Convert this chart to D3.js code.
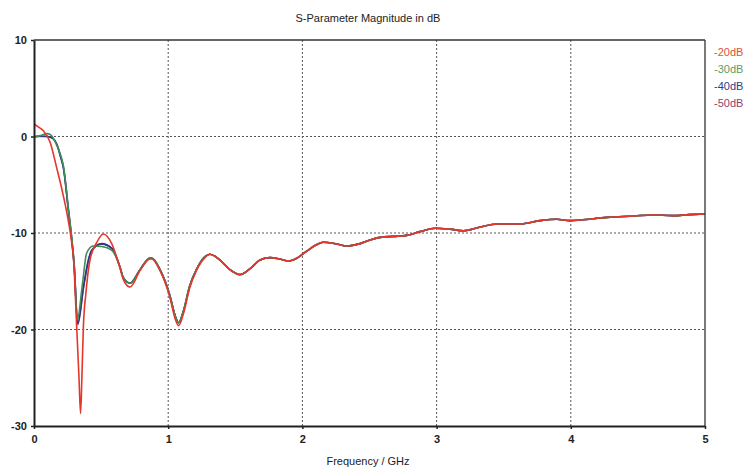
<!DOCTYPE html>
<html>
<head>
<meta charset="utf-8">
<script src="https://cdn.jsdelivr.net/npm/d3@7"></script>
<style>
  html, body { margin: 0; padding: 0; background: #fff; }
  svg { display: block; }
  text { font-family: "Liberation Sans", Arial, sans-serif; fill: #222; }
</style>
</head>
<body>
<svg id="chart" width="746" height="469"></svg>
<script>
// Axis ticks
const xTicks = [0, 1, 2, 3, 4, 5];
const yTicks = [10, 0, -10, -20, -30];

// Series names and colours (legend order)
const seriesNames = ["-20dB", "-30dB", "-40dB", "-50dB"];
const lineColors = ["#e5362b", "#3f8d57", "#26398b", "#8c3c78"];
const labelColors = ["#e0503c", "#5c9b6a", "#2c3c8c", "#8c4270"];

// Low-frequency portion, per series (GHz / dB)
const headFreq20 = [0, 0.032, 0.07, 0.12, 0.17, 0.21, 0.25, 0.275, 0.295, 0.318, 0.335, 0.347, 0.357, 0.368, 0.387, 0.417, 0.467, 0.516, 0.579];
const headDb20   = [1.3, 1.0, 0.6, -0.6, -3.3, -5.6, -8.3, -10.4, -12.8, -19.7, -24.9, -28.7, -24.9, -19.7, -16.2, -12.8, -11.0, -10.1, -11.1];

const headFreq30 = [0, 0.05, 0.1, 0.13, 0.16, 0.2, 0.22, 0.256, 0.28, 0.3, 0.323, 0.36, 0.392, 0.44, 0.504, 0.58];
const headDb30   = [-0.1, 0.1, 0.3, 0.1, -0.6, -2.0, -3.1, -7.4, -10.3, -13.3, -19.0, -15.4, -12.1, -11.35, -11.4, -11.8];

const headFreq40 = [0, 0.05, 0.1, 0.14, 0.17, 0.2, 0.22, 0.256, 0.28, 0.3, 0.325, 0.368, 0.405, 0.43, 0.504, 0.58];
const headDb40   = [0, 0.05, 0.0, -0.2, -0.8, -2.2, -3.3, -7.6, -10.5, -13.5, -19.4, -15.6, -12.8, -11.8, -11.1, -11.6];

const headFreq50 = [0, 0.05, 0.1, 0.14, 0.17, 0.2, 0.22, 0.256, 0.28, 0.3, 0.326, 0.37, 0.407, 0.43, 0.504, 0.58];
const headDb50   = [0, 0.0, 0.0, -0.2, -0.8, -2.2, -3.3, -7.6, -10.5, -13.5, -19.5, -15.6, -12.8, -11.8, -11.15, -11.6];

// Higher-frequency portion, common frequency grid
const tailFreq = [0.64, 0.665, 0.716, 0.79, 0.864, 0.877, 0.939, 1.013, 1.05, 1.078, 1.113, 1.16, 1.21, 1.27, 1.31, 1.386, 1.46, 1.535, 1.61, 1.684, 1.76, 1.83, 1.9, 1.96, 2.03, 2.1, 2.155, 2.255, 2.33, 2.43, 2.5, 2.58, 2.68, 2.777, 2.876, 2.99, 3.1, 3.2, 3.32, 3.45, 3.62, 3.77, 3.895, 3.994, 4.07, 4.27, 4.47, 4.61, 4.76, 4.88, 5.0];
const tailDb20 = [-13.6, -14.8, -15.6, -13.9, -12.7, -12.7, -13.9, -16.7, -18.8, -19.6, -18.4, -15.7, -13.9, -12.6, -12.2, -12.8, -13.8, -14.35, -13.7, -12.8, -12.55, -12.7, -12.9, -12.6, -11.9, -11.25, -10.96, -11.14, -11.35, -11.1, -10.75, -10.45, -10.35, -10.25, -9.86, -9.5, -9.6, -9.76, -9.4, -9.07, -9.07, -8.72, -8.58, -8.72, -8.65, -8.38, -8.24, -8.13, -8.2, -8.1, -8.03];
const tailDbLow = [-13.5, -14.6, -15.2, -13.8, -12.6, -12.6, -13.8, -16.5, -18.5, -19.3, -18.1, -15.5, -13.8, -12.5, -12.2, -12.8, -13.8, -14.3, -13.7, -12.8, -12.55, -12.7, -12.9, -12.6, -11.9, -11.25, -10.96, -11.14, -11.35, -11.1, -10.75, -10.45, -10.35, -10.25, -9.86, -9.5, -9.6, -9.76, -9.4, -9.07, -9.07, -8.72, -8.58, -8.72, -8.65, -8.38, -8.24, -8.13, -8.2, -8.1, -8.03];

const plot = { left: 34, right: 705, top: 40, bottom: 426 };

const x = d3.scaleLinear().domain([0, 5]).range([plot.left, plot.right]);
const y = d3.scaleLinear().domain([-30, 10]).range([plot.bottom, plot.top]);

const svg = d3.select("#chart");

function zipSeries(hf, hd, tf, td) {
  const pts = hf.map((f, i) => ({ f, db: hd[i] }));
  return pts.concat(tf.map((f, i) => ({ f, db: td[i] })));
}

const series = [
  zipSeries(headFreq20, headDb20, tailFreq, tailDb20),
  zipSeries(headFreq30, headDb30, tailFreq, tailDbLow),
  zipSeries(headFreq40, headDb40, tailFreq, tailDbLow),
  zipSeries(headFreq50, headDb50, tailFreq, tailDbLow)
];

// Dotted grid
const grid = svg.append("g").attr("stroke", "#555").attr("stroke-width", 1)
  .attr("stroke-dasharray", "2,2");
xTicks.filter(t => t > 0 && t < 5).forEach(t => {
  grid.append("line").attr("x1", x(t)).attr("x2", x(t))
    .attr("y1", plot.top).attr("y2", plot.bottom);
});
yTicks.filter(t => t < 10 && t > -30).forEach(t => {
  grid.append("line").attr("x1", plot.left).attr("x2", plot.right)
    .attr("y1", y(t)).attr("y2", y(t));
});

// Curves
svg.append("clipPath").attr("id", "plotClip").append("rect")
  .attr("x", plot.left).attr("y", plot.top)
  .attr("width", plot.right - plot.left).attr("height", plot.bottom - plot.top);

const line = d3.line().x(d => x(d.f)).y(d => y(d.db)).curve(d3.curveMonotoneX);
const curves = svg.append("g").attr("clip-path", "url(#plotClip)");
[3, 2, 1, 0].forEach(i => {
  curves.append("path").datum(series[i])
    .attr("d", line)
    .attr("fill", "none")
    .attr("stroke", lineColors[i])
    .attr("stroke-width", 1.6)
    .attr("stroke-linejoin", "round");
});

// Frame
svg.append("line").attr("x1", plot.left).attr("x2", plot.right)
  .attr("y1", plot.top).attr("y2", plot.top).attr("stroke", "#333").attr("stroke-width", 1.3);
svg.append("line").attr("x1", plot.right).attr("x2", plot.right)
  .attr("y1", plot.top).attr("y2", plot.bottom).attr("stroke", "#333").attr("stroke-width", 1.3);

// Axes (plain hyphen for negative labels)
const fmt = d => String(d);
const xAxis = svg.append("g").attr("transform", `translate(0,${plot.bottom})`)
  .call(d3.axisBottom(x).tickValues(xTicks).tickFormat(fmt).tickSizeInner(3).tickSizeOuter(0).tickPadding(6));
const yAxis = svg.append("g").attr("transform", `translate(${plot.left},0)`)
  .call(d3.axisLeft(y).tickValues(yTicks).tickFormat(fmt).tickSizeInner(3).tickSizeOuter(0).tickPadding(4));

[xAxis, yAxis].forEach(a => {
  a.select(".domain").attr("stroke", "#222").attr("stroke-width", 2);
  a.selectAll(".tick line").attr("stroke", "#222").attr("stroke-width", 1.5);
  a.selectAll(".tick text").attr("font-family", "Liberation Sans, Arial, sans-serif")
    .attr("font-size", 11).attr("font-weight", "bold").attr("fill", "#222");
});

// Title and axis label
svg.append("text").attr("x", 368).attr("y", 22).attr("text-anchor", "middle")
  .attr("font-size", 11).text("S-Parameter Magnitude in dB");
svg.append("text").attr("x", 368).attr("y", 465).attr("text-anchor", "middle")
  .attr("font-size", 11).text("Frequency / GHz");

// Legend
const legendY = [56, 73, 90, 107];
seriesNames.forEach((name, i) => {
  svg.append("text").attr("x", 714).attr("y", legendY[i])
    .attr("font-size", 11).style("fill", labelColors[i]).text(name);
});
</script>
</body>
</html>
